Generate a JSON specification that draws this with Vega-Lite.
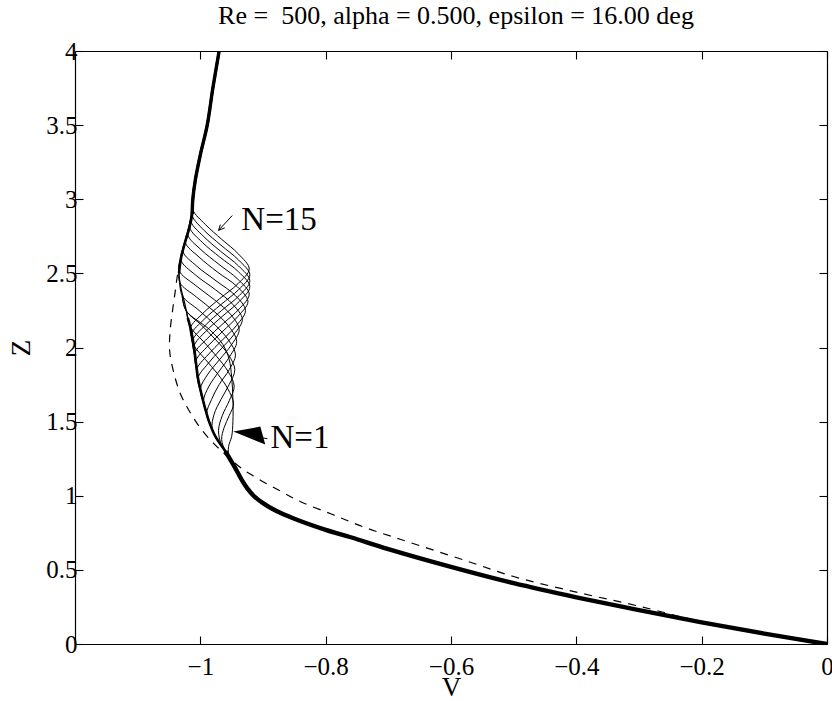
{
  "$schema": "https://vega.github.io/schema/vega-lite/v6.json",
  "width": 752,
  "height": 593,
  "autosize": "none",
  "padding": {"left": 75, "top": 51, "right": 5, "bottom": 57},
  "background": "white",
  "title": {"text": "Re = \u00a0500, alpha = 0.500, epsilon = 16.00 deg", "font": "Liberation Serif", "fontSize": 26, "fontWeight": "normal", "color": "black", "anchor": "middle", "offset": 10, "dx": 5},
  "config": {
    "view": {"stroke": null},
    "axis": {"grid": false, "domainColor": "black", "domainWidth": 1.2, "tickColor": "black", "tickWidth": 1.1, "tickSize": -8, "labelFont": "Liberation Serif", "labelFontSize": 25, "labelColor": "black", "titleFont": "Liberation Serif", "titleFontSize": 27, "titleFontWeight": "normal", "titleColor": "black", "labelFlush": false, "labelOverlap": false}
  },
  "datasets": {
    "base": [
      {"Z":0,"V":0},{"Z":0.07,"V":-0.1},{"Z":0.146,"V":-0.2},{"Z":0.228,"V":-0.3},{"Z":0.315,"V":-0.4},{"Z":0.41,"V":-0.5},{"Z":0.52,"V":-0.6},{"Z":0.64,"V":-0.7},{"Z":0.72,"V":-0.76},{"Z":0.77,"V":-0.8},{"Z":0.845,"V":-0.85},{"Z":0.9,"V":-0.88},{"Z":0.95,"V":-0.9},{"Z":1.0,"V":-0.915},{"Z":1.05,"V":-0.925},{"Z":1.1,"V":-0.933},{"Z":1.2,"V":-0.946},{"Z":1.3,"V":-0.96},{"Z":1.4,"V":-0.976},{"Z":1.5,"V":-0.986},{"Z":1.6,"V":-0.993},{"Z":1.7,"V":-0.999},{"Z":1.8,"V":-1.004},{"Z":1.9,"V":-1.007},{"Z":2.0,"V":-1.01},{"Z":2.1,"V":-1.014},{"Z":2.2,"V":-1.02},{"Z":2.3,"V":-1.025},{"Z":2.4,"V":-1.031},{"Z":2.5,"V":-1.034},{"Z":2.6,"V":-1.031},{"Z":2.7,"V":-1.025},{"Z":2.8,"V":-1.018},{"Z":2.9,"V":-1.013},{"Z":3.0,"V":-1.012},{"Z":3.13,"V":-1.008},{"Z":3.3,"V":-1.0},{"Z":3.5,"V":-0.989},{"Z":3.75,"V":-0.98},{"Z":4.0,"V":-0.97}
    ],
    "dashed": [
      {"Z":0,"V":0},{"Z":0.07,"V":-0.1},{"Z":0.15,"V":-0.2},{"Z":0.255,"V":-0.3},{"Z":0.35,"V":-0.4},{"Z":0.455,"V":-0.5},{"Z":0.56,"V":-0.575},{"Z":0.705,"V":-0.68},{"Z":0.79,"V":-0.74},{"Z":0.875,"V":-0.79},{"Z":0.96,"V":-0.84},{"Z":1.04,"V":-0.876},{"Z":1.12,"V":-0.91},{"Z":1.19,"V":-0.936},{"Z":1.27,"V":-0.958},{"Z":1.35,"V":-0.978},{"Z":1.44,"V":-0.997},{"Z":1.56,"V":-1.016},{"Z":1.69,"V":-1.032},{"Z":1.84,"V":-1.043},{"Z":1.98,"V":-1.049},{"Z":2.12,"V":-1.048},{"Z":2.26,"V":-1.044},{"Z":2.38,"V":-1.04},{"Z":2.5,"V":-1.036},{"Z":2.65,"V":-1.028}
    ],
    "curves": [
      {"N":1,"Z":1.16,"V":-0.941},{"N":1,"Z":1.26,"V":-0.954},{"N":1,"Z":1.33,"V":-0.955},{"N":1,"Z":1.4,"V":-0.95},{"N":1,"Z":1.5,"V":-0.948},{"N":1,"Z":1.65,"V":-0.948},{"N":1,"Z":1.8,"V":-0.95},{"N":1,"Z":1.92,"V":-0.954},{"N":1,"Z":2.02,"V":-0.964},{"N":1,"Z":2.12,"V":-0.985},{"N":1,"Z":2.25,"V":-1.023},{"N":1,"Z":2.35,"V":-1.029},
      {"N":2,"Z":1.2,"V":-0.946},{"N":2,"Z":1.3,"V":-0.96},{"N":2,"Z":1.38,"V":-0.966},{"N":2,"Z":1.46,"V":-0.962},{"N":2,"Z":1.54,"V":-0.954},{"N":2,"Z":1.62,"V":-0.947},{"N":2,"Z":1.72,"V":-0.956},{"N":2,"Z":1.82,"V":-0.972},{"N":2,"Z":1.92,"V":-0.992},{"N":2,"Z":2.02,"V":-1.011},{"N":2,"Z":2.12,"V":-1.015},
      {"N":3,"Z":1.24,"V":-0.952},{"N":3,"Z":1.34,"V":-0.966},{"N":3,"Z":1.44,"V":-0.971},{"N":3,"Z":1.54,"V":-0.965},{"N":3,"Z":1.64,"V":-0.954},{"N":3,"Z":1.74,"V":-0.946},{"N":3,"Z":1.84,"V":-0.956},{"N":3,"Z":1.94,"V":-0.974},{"N":3,"Z":2.04,"V":-0.995},{"N":3,"Z":2.14,"V":-1.016},{"N":3,"Z":2.24,"V":-1.022},
      {"N":4,"Z":1.35,"V":-0.968},{"N":4,"Z":1.45,"V":-0.981},{"N":4,"Z":1.55,"V":-0.978},{"N":4,"Z":1.65,"V":-0.967},{"N":4,"Z":1.75,"V":-0.954},{"N":4,"Z":1.85,"V":-0.945},{"N":4,"Z":1.95,"V":-0.955},{"N":4,"Z":2.05,"V":-0.975},{"N":4,"Z":2.15,"V":-0.998},{"N":4,"Z":2.25,"V":-1.023},{"N":4,"Z":2.35,"V":-1.029},
      {"N":5,"Z":1.45,"V":-0.981},{"N":5,"Z":1.55,"V":-0.99},{"N":5,"Z":1.65,"V":-0.982},{"N":5,"Z":1.75,"V":-0.97},{"N":5,"Z":1.85,"V":-0.954},{"N":5,"Z":1.95,"V":-0.944},{"N":5,"Z":2.05,"V":-0.955},{"N":5,"Z":2.15,"V":-0.976},{"N":5,"Z":2.25,"V":-1.002},{"N":5,"Z":2.35,"V":-1.029},{"N":5,"Z":2.45,"V":-1.033},
      {"N":6,"Z":1.54,"V":-0.989},{"N":6,"Z":1.64,"V":-0.995},{"N":6,"Z":1.74,"V":-0.986},{"N":6,"Z":1.84,"V":-0.97},{"N":6,"Z":1.94,"V":-0.953},{"N":6,"Z":2.04,"V":-0.942},{"N":6,"Z":2.14,"V":-0.954},{"N":6,"Z":2.24,"V":-0.977},{"N":6,"Z":2.34,"V":-1.006},{"N":6,"Z":2.44,"V":-1.033},{"N":6,"Z":2.54,"V":-1.033},
      {"N":7,"Z":1.62,"V":-0.994},{"N":7,"Z":1.72,"V":-1.0},{"N":7,"Z":1.82,"V":-0.988},{"N":7,"Z":1.92,"V":-0.969},{"N":7,"Z":2.02,"V":-0.95},{"N":7,"Z":2.12,"V":-0.938},{"N":7,"Z":2.22,"V":-0.951},{"N":7,"Z":2.32,"V":-0.977},{"N":7,"Z":2.42,"V":-1.008},{"N":7,"Z":2.52,"V":-1.034},{"N":7,"Z":2.62,"V":-1.03},
      {"N":8,"Z":1.69,"V":-0.998},{"N":8,"Z":1.79,"V":-1.004},{"N":8,"Z":1.89,"V":-0.988},{"N":8,"Z":1.99,"V":-0.967},{"N":8,"Z":2.09,"V":-0.946},{"N":8,"Z":2.19,"V":-0.933},{"N":8,"Z":2.29,"V":-0.948},{"N":8,"Z":2.39,"V":-0.976},{"N":8,"Z":2.49,"V":-1.008},{"N":8,"Z":2.59,"V":-1.031},{"N":8,"Z":2.69,"V":-1.026},
      {"N":9,"Z":1.75,"V":-1.002},{"N":9,"Z":1.85,"V":-1.006},{"N":9,"Z":1.95,"V":-0.988},{"N":9,"Z":2.05,"V":-0.965},{"N":9,"Z":2.15,"V":-0.942},{"N":9,"Z":2.25,"V":-0.928},{"N":9,"Z":2.35,"V":-0.944},{"N":9,"Z":2.45,"V":-0.975},{"N":9,"Z":2.55,"V":-1.006},{"N":9,"Z":2.65,"V":-1.028},{"N":9,"Z":2.75,"V":-1.021},
      {"N":10,"Z":1.81,"V":-1.004},{"N":10,"Z":1.91,"V":-1.007},{"N":10,"Z":2.01,"V":-0.988},{"N":10,"Z":2.11,"V":-0.964},{"N":10,"Z":2.21,"V":-0.94},{"N":10,"Z":2.31,"V":-0.924},{"N":10,"Z":2.41,"V":-0.941},{"N":10,"Z":2.51,"V":-0.973},{"N":10,"Z":2.61,"V":-1.002},{"N":10,"Z":2.71,"V":-1.024},{"N":10,"Z":2.81,"V":-1.017},
      {"N":11,"Z":1.86,"V":-1.006},{"N":11,"Z":1.96,"V":-1.009},{"N":11,"Z":2.06,"V":-0.989},{"N":11,"Z":2.16,"V":-0.964},{"N":11,"Z":2.26,"V":-0.938},{"N":11,"Z":2.36,"V":-0.922},{"N":11,"Z":2.46,"V":-0.94},{"N":11,"Z":2.56,"V":-0.97},{"N":11,"Z":2.66,"V":-0.999},{"N":11,"Z":2.76,"V":-1.02},{"N":11,"Z":2.86,"V":-1.015},
      {"N":12,"Z":1.91,"V":-1.007},{"N":12,"Z":2.01,"V":-1.01},{"N":12,"Z":2.11,"V":-0.991},{"N":12,"Z":2.21,"V":-0.965},{"N":12,"Z":2.31,"V":-0.938},{"N":12,"Z":2.41,"V":-0.921},{"N":12,"Z":2.51,"V":-0.939},{"N":12,"Z":2.61,"V":-0.969},{"N":12,"Z":2.71,"V":-0.997},{"N":12,"Z":2.81,"V":-1.017},{"N":12,"Z":2.91,"V":-1.013},
      {"N":13,"Z":1.95,"V":-1.009},{"N":13,"Z":2.05,"V":-1.012},{"N":13,"Z":2.15,"V":-0.992},{"N":13,"Z":2.25,"V":-0.966},{"N":13,"Z":2.35,"V":-0.938},{"N":13,"Z":2.45,"V":-0.921},{"N":13,"Z":2.55,"V":-0.939},{"N":13,"Z":2.65,"V":-0.968},{"N":13,"Z":2.75,"V":-0.995},{"N":13,"Z":2.85,"V":-1.015},{"N":13,"Z":2.95,"V":-1.012},
      {"N":14,"Z":1.99,"V":-1.01},{"N":14,"Z":2.09,"V":-1.014},{"N":14,"Z":2.19,"V":-0.994},{"N":14,"Z":2.29,"V":-0.967},{"N":14,"Z":2.39,"V":-0.939},{"N":14,"Z":2.49,"V":-0.921},{"N":14,"Z":2.59,"V":-0.939},{"N":14,"Z":2.69,"V":-0.967},{"N":14,"Z":2.79,"V":-0.994},{"N":14,"Z":2.89,"V":-1.013},{"N":14,"Z":2.99,"V":-1.012},
      {"N":15,"Z":2.03,"V":-1.011},{"N":15,"Z":2.13,"V":-1.016},{"N":15,"Z":2.23,"V":-0.996},{"N":15,"Z":2.33,"V":-0.969},{"N":15,"Z":2.43,"V":-0.94},{"N":15,"Z":2.53,"V":-0.922},{"N":15,"Z":2.63,"V":-0.939},{"N":15,"Z":2.73,"V":-0.966},{"N":15,"Z":2.83,"V":-0.992},{"N":15,"Z":2.93,"V":-1.012},{"N":15,"Z":3.03,"V":-1.011}
    ],
    "labels": [
      {"label":"N=15","V":-0.9346,"Z":2.79},
      {"label":"N=1","V":-0.888,"Z":1.325}
    ],
    "arrows": [
      {"id":"shaft15","ord":0,"V":-0.971,"Z":2.79},{"id":"shaft15","ord":1,"V":-0.949,"Z":2.89},
      {"id":"head15","ord":0,"V":-0.961,"Z":2.807},{"id":"head15","ord":1,"V":-0.971,"Z":2.79},{"id":"head15","ord":2,"V":-0.968,"Z":2.829},
      {"id":"shaft1","ord":0,"V":-0.905,"Z":1.393},{"id":"shaft1","ord":1,"V":-0.893,"Z":1.385}
    ],
    "heads": [
      {"V":-0.9219,"Z":1.406}
    ]
  },
  "layer": [
    {
      "data": {"name": "dashed"},
      "mark": {"type": "line", "color": "black", "strokeWidth": 1.2, "strokeDash": [8, 7], "interpolate": "catmull-rom", "clip": true},
      "encoding": {
        "x": {"field": "V", "type": "quantitative", "scale": {"domain": [-1.2, 0], "nice": false, "zero": false},
              "axis": {"orient": "bottom", "values": [-1, -0.8, -0.6, -0.4, -0.2, 0], "labelExpr": "replace('' + datum.value, '-', '−')", "title": "V", "labelPadding": 18, "titlePadding": -5}},
        "y": {"field": "Z", "type": "quantitative", "scale": {"domain": [0, 4], "nice": false, "zero": false},
              "axis": {"orient": "left", "values": [0, 0.5, 1, 1.5, 2, 2.5, 3, 3.5, 4], "labelExpr": "'' + datum.value", "title": "Z", "labelPadding": 6, "titlePadding": 10}},
        "order": {"field": "Z"}
      }
    },
    {
      "data": {"name": "curves"},
      "mark": {"type": "line", "color": "black", "strokeWidth": 1, "interpolate": "catmull-rom", "clip": true},
      "encoding": {
        "x": {"field": "V", "type": "quantitative", "scale": {"domain": [-1.2, 0], "nice": false, "zero": false},
              "axis": {"orient": "top", "values": [-1, -0.8, -0.6, -0.4, -0.2, 0], "labels": false, "title": null, "minExtent": 0, "maxExtent": 0}},
        "y": {"field": "Z", "type": "quantitative", "scale": {"domain": [0, 4], "nice": false, "zero": false},
              "axis": {"orient": "right", "values": [0, 0.5, 1, 1.5, 2, 2.5, 3, 3.5, 4], "labels": false, "title": null, "minExtent": 0, "maxExtent": 0}},
        "detail": {"field": "N", "type": "nominal"},
        "order": {"field": "Z"}
      }
    },
    {
      "data": {"name": "base"},
      "mark": {"type": "line", "color": "black", "strokeWidth": 1.3, "interpolate": "catmull-rom", "clip": true},
      "encoding": {
        "x": {"field": "V", "type": "quantitative", "axis": null},
        "y": {"field": "Z", "type": "quantitative", "axis": null},
        "order": {"field": "Z"}
      }
    },
    {
      "data": {"name": "base"},
      "transform": [{"filter": "datum.Z <= 2.2"}],
      "mark": {"type": "line", "color": "black", "strokeWidth": 2.6, "interpolate": "catmull-rom", "clip": true},
      "encoding": {
        "x": {"field": "V", "type": "quantitative", "axis": null},
        "y": {"field": "Z", "type": "quantitative", "axis": null},
        "order": {"field": "Z"}
      }
    },
    {
      "data": {"name": "base"},
      "transform": [{"filter": "datum.Z <= 1.3"}],
      "mark": {"type": "line", "color": "black", "strokeWidth": 4.4, "interpolate": "catmull-rom", "clip": true},
      "encoding": {
        "x": {"field": "V", "type": "quantitative", "axis": null},
        "y": {"field": "Z", "type": "quantitative", "axis": null},
        "order": {"field": "Z"}
      }
    },
    {
      "data": {"name": "base"},
      "transform": [{"filter": "datum.Z >= 2.5"}],
      "mark": {"type": "line", "color": "black", "strokeWidth": 2.6, "interpolate": "catmull-rom", "clip": true},
      "encoding": {
        "x": {"field": "V", "type": "quantitative", "axis": null},
        "y": {"field": "Z", "type": "quantitative", "axis": null},
        "order": {"field": "Z"}
      }
    },
    {
      "data": {"name": "base"},
      "transform": [{"filter": "datum.Z >= 2.9"}],
      "mark": {"type": "line", "color": "black", "strokeWidth": 3.4, "interpolate": "catmull-rom", "clip": true},
      "encoding": {
        "x": {"field": "V", "type": "quantitative", "axis": null},
        "y": {"field": "Z", "type": "quantitative", "axis": null},
        "order": {"field": "Z"}
      }
    },
    {
      "data": {"name": "arrows"},
      "mark": {"type": "line", "color": "black", "strokeWidth": 1},
      "encoding": {
        "x": {"field": "V", "type": "quantitative", "axis": null},
        "y": {"field": "Z", "type": "quantitative", "axis": null},
        "detail": {"field": "id", "type": "nominal"},
        "order": {"field": "ord"}
      }
    },
    {
      "data": {"name": "heads"},
      "mark": {"type": "point", "shape": "M-1,-0.25L0.69,-0.56L1,0.56Z", "size": 1024, "filled": true, "color": "black", "opacity": 1, "strokeWidth": 0},
      "encoding": {
        "x": {"field": "V", "type": "quantitative", "axis": null},
        "y": {"field": "Z", "type": "quantitative", "axis": null}
      }
    },
    {
      "data": {"name": "labels"},
      "mark": {"type": "text", "align": "left", "baseline": "alphabetic", "font": "Liberation Serif", "fontSize": 33, "color": "black"},
      "encoding": {
        "x": {"field": "V", "type": "quantitative", "axis": null},
        "y": {"field": "Z", "type": "quantitative", "axis": null},
        "text": {"field": "label"}
      }
    }
  ],
  "resolve": {"axis": {"x": "independent", "y": "independent"}}
}
